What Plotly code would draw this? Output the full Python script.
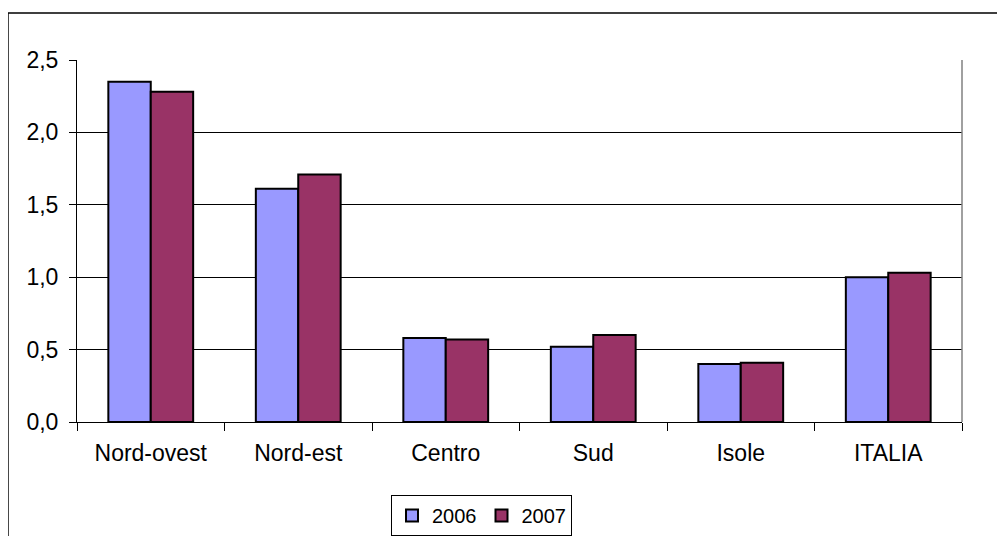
import plotly.graph_objects as go

categories = ["Nord-ovest", "Nord-est", "Centro", "Sud", "Isole", "ITALIA"]
values_2006 = [2.35, 1.61, 0.58, 0.52, 0.40, 1.00]
values_2007 = [2.28, 1.71, 0.57, 0.60, 0.41, 1.03]
series_names = ["2006", "2007"]
y_ticks = [0.0, 0.5, 1.0, 1.5, 2.0, 2.5]

FONT = "Liberation Sans, Arial, sans-serif"

fig = go.Figure()
fig.add_trace(go.Bar(x=categories, y=values_2006, name=series_names[0],
                     marker=dict(color="#9999FF", line=dict(color="black", width=2))))
fig.add_trace(go.Bar(x=categories, y=values_2007, name=series_names[1],
                     marker=dict(color="#993366", line=dict(color="black", width=2))))

# page has an 8px body margin, so the figure is sized/offset to compensate
W, H = 997, 528
fig.update_layout(
    width=W, height=H,
    margin=dict(l=69, r=43, t=52, b=114, autoexpand=False),
    paper_bgcolor="white", plot_bgcolor="white",
    separators=",.",
    barmode="group", bargap=0.425, bargroupgap=0,
    font=dict(family=FONT, size=23, color="black"),
    showlegend=True,
    legend=dict(orientation="h", xref="container", yref="container",
                x=383 / W, y=1 - 487 / H, xanchor="left", yanchor="top",
                bordercolor="black", borderwidth=1, bgcolor="white",
                font=dict(family=FONT, size=20, color="black"),
                itemwidth=30, tracegroupgap=0),
    xaxis=dict(type="category", tickson="boundaries", ticks="outside", ticklen=8,
               tickcolor="black", showline=True, linecolor="black", linewidth=1,
               showgrid=False, tickfont=dict(size=23), ticklabelstandoff=10),
    yaxis=dict(range=[0, 2.5], tickvals=y_ticks, tickformat=".1f", ticks="outside",
               ticklen=7, tickcolor="black", showline=True, linecolor="black",
               linewidth=1, showgrid=True, gridcolor="black", gridwidth=1,
               zeroline=False, tickfont=dict(size=23), ticklabelstandoff=6),
)

# right edge of plot area (grey)
fig.add_shape(type="line", xref="paper", yref="paper", x0=1, x1=1, y0=0, y1=1,
              line=dict(color="#808080", width=1.5))
# outer chart frame (clipped by page)
fig.add_shape(type="rect", xref="paper", yref="paper", x0=-0.078, x1=1.2, y0=-0.5, y1=1.1298,
              line=dict(color="black", width=1.5), fillcolor="rgba(0,0,0,0)", layer="below")

fig.write_html("out.html")
